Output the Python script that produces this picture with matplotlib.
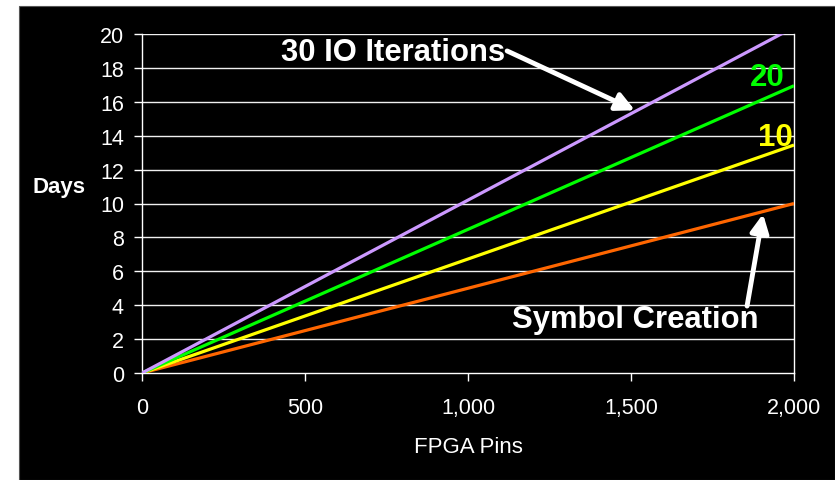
import matplotlib
matplotlib.use("Agg")
import matplotlib.pyplot as plt
from matplotlib.patches import Rectangle
from matplotlib.ticker import FuncFormatter

plt.rcParams['font.family'] = ['Liberation Sans', 'DejaVu Sans']

pins = [0, 2000]
series_names = ["30 IO Iterations", "20", "10", "Symbol Creation"]
series_values = [
    [0, 20.4],
    [0, 16.95],
    [0, 13.45],
    [0, 10.0],
]
series_colors = ["#CC99FF", "#00FF00", "#FFFF00", "#FF6600"]
x_ticks = [0, 500, 1000, 1500, 2000]
y_ticks = list(range(0, 21, 2))

W, H = 835, 481
fig = plt.figure(figsize=(W / 100, H / 100), dpi=100, facecolor="white")
bg = Rectangle((19 / W, 0), 1 - 19 / W, (H - 7) / H,
               transform=fig.transFigure, facecolor="black",
               edgecolor="#555555", lw=0.8, zorder=-10)
fig.add_artist(bg)

ax = fig.add_axes([142 / W, 1 - 374 / H, (794 - 142) / W, (374 - 35) / H])
ax.set_zorder(1)
ax.set_facecolor("black")
ax.set_xlim(0, 2000)
ax.set_ylim(0, 20)

for ys in y_ticks[1:]:
    ax.axhline(ys, color="#f0f0f0", lw=1.0, zorder=1)

for vals, col in zip(series_values[::-1], series_colors[::-1]):
    ax.plot(pins, vals, color=col, lw=2.3, zorder=3, clip_on=True, solid_capstyle="butt")

for side in ["left", "bottom", "right"]:
    ax.spines[side].set_color("white")
    ax.spines[side].set_linewidth(1.0)
ax.spines["top"].set_visible(False)

ax.set_xticks(x_ticks)
ax.set_yticks(y_ticks)
ax.xaxis.set_major_formatter(FuncFormatter(lambda v, p: f"{int(v):,}"))
ax.tick_params(axis="both", colors="white", labelcolor="white", labelsize=15.5,
               length=6, width=1, direction="out")
ax.tick_params(axis="y", pad=7)
ax.tick_params(axis="x", pad=11)

ax.set_xlabel("FPGA Pins", color="white", fontsize=16, labelpad=13)
fig.text(59 / W, 1 - 187 / H, "Days", color="white", fontsize=16,
         fontweight="bold", ha="center", va="center")

# annotations
arrow_style = "-|>,head_width=0.55,head_length=1.1"
ax.annotate("", xy=(1512, 15.5), xytext=(1120, 19.0),
            arrowprops=dict(arrowstyle=arrow_style,
                            color="white", lw=3.5, shrinkA=0, shrinkB=0), zorder=5)
ax.text(770, 18.94, series_names[0], color="white", fontsize=22.3,
        fontweight="bold", ha="center", va="center", zorder=6)

ax.annotate("", xy=(1905, 9.38), xytext=(1856, 3.95),
            arrowprops=dict(arrowstyle=arrow_style,
                            color="white", lw=3.5, shrinkA=0, shrinkB=0), zorder=5)
ax.text(1512, 3.19, series_names[3], color="white", fontsize=22.3,
        fontweight="bold", ha="center", va="center", zorder=6)

ax.text(1917, 17.46, series_names[1], color=series_colors[1], fontsize=22.5,
        fontweight="bold", ha="center", va="center", zorder=6)
ax.text(1942, 13.92, series_names[2], color=series_colors[2], fontsize=22.5,
        fontweight="bold", ha="center", va="center", zorder=6)

fig.savefig("out.png", dpi=100, facecolor="white")
